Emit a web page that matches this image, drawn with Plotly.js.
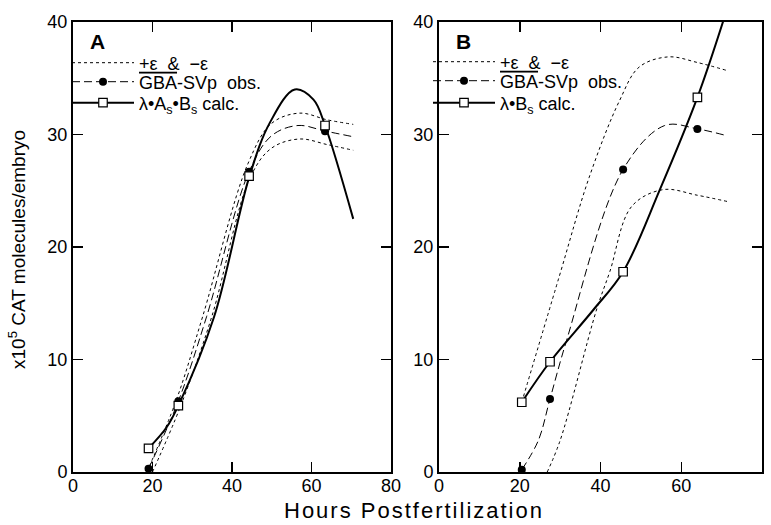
<!DOCTYPE html>
<html><head><meta charset="utf-8">
<script src="https://cdn.plot.ly/plotly-3.0.1.min.js"></script>
<style>html,body{margin:0;padding:0;background:#fff}#chart{width:771px;height:525px}</style>
</head><body><div id="chart"></div>
<script>
// ---------- data (hours postfertilization, x10^5 CAT molecules/embryo) ----------
const xTicks = [0, 20, 40, 60, 80];
const yTicks = [0, 10, 20, 30, 40];

// Panel A
const aPtHours = [19, 26.5, 44.3, 63.4];
const aObsPts  = [0.3, 6.3, 26.7, 30.3];
const aCalcPts = [2.1, 5.9, 26.3, 30.8];
const aUpperX = [18.6, 26, 32.6, 44, 50, 57, 64, 70.5];
const aUpperY = [0, 6.4, 13.8, 27.4, 31, 31.9, 31.3, 30.9];
const aObsX   = [19, 26.5, 33.6, 44.3, 50, 56.6, 63.5, 70.5];
const aObsY   = [0.3, 6.3, 13.8, 26.7, 29.9, 30.8, 30.3, 29.8];
const aLowerX = [20, 27, 34.9, 44.6, 50, 57, 64, 70.5];
const aLowerY = [0, 5.8, 13.8, 26.2, 28.8, 29.6, 29.1, 28.6];
const aCalcX  = [19, 23.6, 26.5, 35.5, 44.4, 49.6, 55.8, 60.5, 63.4, 70.5];
const aCalcY  = [2.1, 4.0, 5.9, 13.8, 26.3, 31.1, 34.0, 33.1, 30.8, 22.5];

// Panel B
const bPtHours = [20.5, 27.5, 45.6, 64];
const bObsPts  = [0.2, 6.5, 26.9, 30.5];
const bCalcPts = [6.2, 9.8, 17.8, 33.3];
const bUpperX = [20.5, 29.8, 37.2, 44.7, 49.6, 56.8, 64, 71.2];
const bUpperY = [6.2, 17.4, 26.2, 33, 36, 36.9, 36.4, 35.7];
const bObsX   = [20.5, 24.6, 27.5, 31.6, 45.6, 55.9, 64, 71.2];
const bObsY   = [0.2, 2.8, 6.5, 11.7, 26.9, 30.8, 30.5, 29.9];
const bLowerX = [26.8, 30, 39, 42.3, 47.7, 55.5, 64, 72];
const bLowerY = [0, 2.8, 14.4, 17.8, 23.6, 25.1, 24.6, 24.0];
const bCalcX  = [20.5, 27.5, 38.2, 45.6, 54.7, 64, 70.5];
const bCalcY  = [6.2, 9.8, 14.4, 17.8, 25.1, 33.3, 40.2];

const legEps  = '+ε\u00A0 &\u00A0 −ε';
const legObs  = '<span style="text-decoration:overline">GBA</span>-SVp\u00A0 obs.';
const legCalcA = 'λ•A<sub>s</sub>•B<sub>s</sub> calc.';
const legCalcB = 'λ•B<sub>s</sub> calc.';

// ---------- styling ----------
const FONT = 'Liberation Sans, Arial, sans-serif';
const epsLine  = {color: '#000', width: 1, dash: '3px,3px'};
const obsLine  = {color: '#000', width: 1, dash: '8px,4px'};
const calcLine = {color: '#000', width: 2};
const circleMk = {symbol: 'circle', size: 8, color: '#000'};
const squareFill = {symbol: 'square', size: 8.5, color: '#fff', line: {width: 1.2, color: '#000'}};

function panel(xa, ya, legs, up, ob, lo, ca, ptH, obsP, calcP, calcName) {
  const t = [];
  const base = {xaxis: xa, yaxis: ya, showlegend: false, hoverinfo: 'skip'};
  t.push(Object.assign({}, base, {x: up[0], y: up[1], mode: 'lines', line: Object.assign({shape: 'spline'}, epsLine)}));
  t.push(Object.assign({}, base, {x: lo[0], y: lo[1], mode: 'lines', line: Object.assign({shape: 'spline'}, epsLine)}));
  t.push(Object.assign({}, base, {x: ob[0], y: ob[1], mode: 'lines', line: Object.assign({shape: 'spline'}, obsLine)}));
  t.push(Object.assign({}, base, {x: ca[0], y: ca[1], mode: 'lines', line: Object.assign({shape: 'spline'}, calcLine)}));
  t.push(Object.assign({}, base, {x: ptH, y: obsP, mode: 'markers', marker: circleMk}));
  t.push(Object.assign({}, base, {x: ptH, y: calcP, mode: 'markers', marker: squareFill}));
  // legend entries (one legend box per row for exact spacing)
  const lb = {xaxis: xa, yaxis: ya, x: [null], y: [null], showlegend: true, hoverinfo: 'skip'};
  t.push(Object.assign({}, lb, {legend: legs[0], name: legEps, mode: 'lines', line: epsLine}));
  t.push(Object.assign({}, lb, {legend: legs[1], name: legObs, mode: 'lines+markers', line: obsLine, marker: circleMk}));
  t.push(Object.assign({}, lb, {legend: legs[2], name: calcName, mode: 'lines+markers', line: calcLine, marker: squareFill}));
  return t;
}

const data = [].concat(
  panel('x', 'y', ['legend', 'legend2', 'legend3'], [aUpperX, aUpperY], [aObsX, aObsY], [aLowerX, aLowerY], [aCalcX, aCalcY], aPtHours, aObsPts, aCalcPts, legCalcA),
  panel('x2', 'y2', ['legend4', 'legend5', 'legend6'], [bUpperX, bUpperY], [bObsX, bObsY], [bLowerX, bLowerY], [bCalcX, bCalcY], bPtHours, bObsPts, bCalcPts, legCalcB)
);

const W = 771, H = 525;
const yDom = [1 - 472 / H, 1 - 22 / H];
function axCommon() {
  return {ticks: 'inside', ticklen: 10, tickwidth: 1.5, tickcolor: '#000', showline: true, linewidth: 2, linecolor: '#000',
    mirror: 'ticks', showgrid: false, zeroline: false, tickfont: {family: FONT, size: 18, color: '#000'}, fixedrange: true};
}
function xAx(dom, anchor) {
  return Object.assign(axCommon(), {domain: dom, anchor: anchor, range: [0, 80], tickvals: xTicks, ticktext: xTicks.map(String), ticklabelstandoff: -4});
}
function yAx(anchor) {
  return Object.assign(axCommon(), {domain: yDom, anchor: anchor, range: [0, 40], tickvals: yTicks, ticktext: yTicks.map(String)});
}
function leg(xpx, ypx) {
  return {x: xpx / W, xanchor: 'left', y: 1 - ypx / H, yanchor: 'middle', bgcolor: 'rgba(0,0,0,0)', borderwidth: 0,
    font: {family: FONT, size: 18, color: '#000'}, itemwidth: 62, tracegroupgap: 0};
}

const layout = {
  width: W, height: H,
  margin: {l: 0, r: 0, t: 0, b: 0},
  paper_bgcolor: '#fff', plot_bgcolor: '#fff',
  showlegend: true,
  font: {family: FONT, color: '#000'},
  xaxis: xAx([73 / W, 391 / W], 'y'),
  yaxis: yAx('x'),
  xaxis2: xAx([439 / W, 762 / W], 'y2'),
  yaxis2: yAx('x2'),
  legend:  leg(67, 63),
  legend2: leg(67, 82),
  legend3: leg(67, 103),
  legend4: leg(428, 62),
  legend5: leg(428, 81),
  legend6: leg(428, 103),
  annotations: [
    {text: '<b>A</b>', xref: 'paper', yref: 'paper', x: 97 / W, y: 1 - 42 / H, xanchor: 'center', yanchor: 'middle', showarrow: false, font: {family: FONT, size: 21}},
    {text: '<b>B</b>', xref: 'paper', yref: 'paper', x: 463 / W, y: 1 - 41 / H, xanchor: 'center', yanchor: 'middle', showarrow: false, font: {family: FONT, size: 21}},
    {text: '<span style="letter-spacing:2px">Hours Postfertilization</span>', xref: 'paper', yref: 'paper', x: 414 / W, y: 1 - 510 / H, xanchor: 'center', yanchor: 'middle', showarrow: false, font: {family: FONT, size: 22}},
    {text: 'x10<sup>5</sup> CAT molecules/embryo', xref: 'paper', yref: 'paper', x: 17 / W, y: 1 - 250 / H, xanchor: 'center', yanchor: 'middle', textangle: -90, showarrow: false, font: {family: FONT, size: 19}}
  ]
};

Plotly.newPlot('chart', data, layout, {displayModeBar: false, staticPlot: true});
</script>
</body></html>
